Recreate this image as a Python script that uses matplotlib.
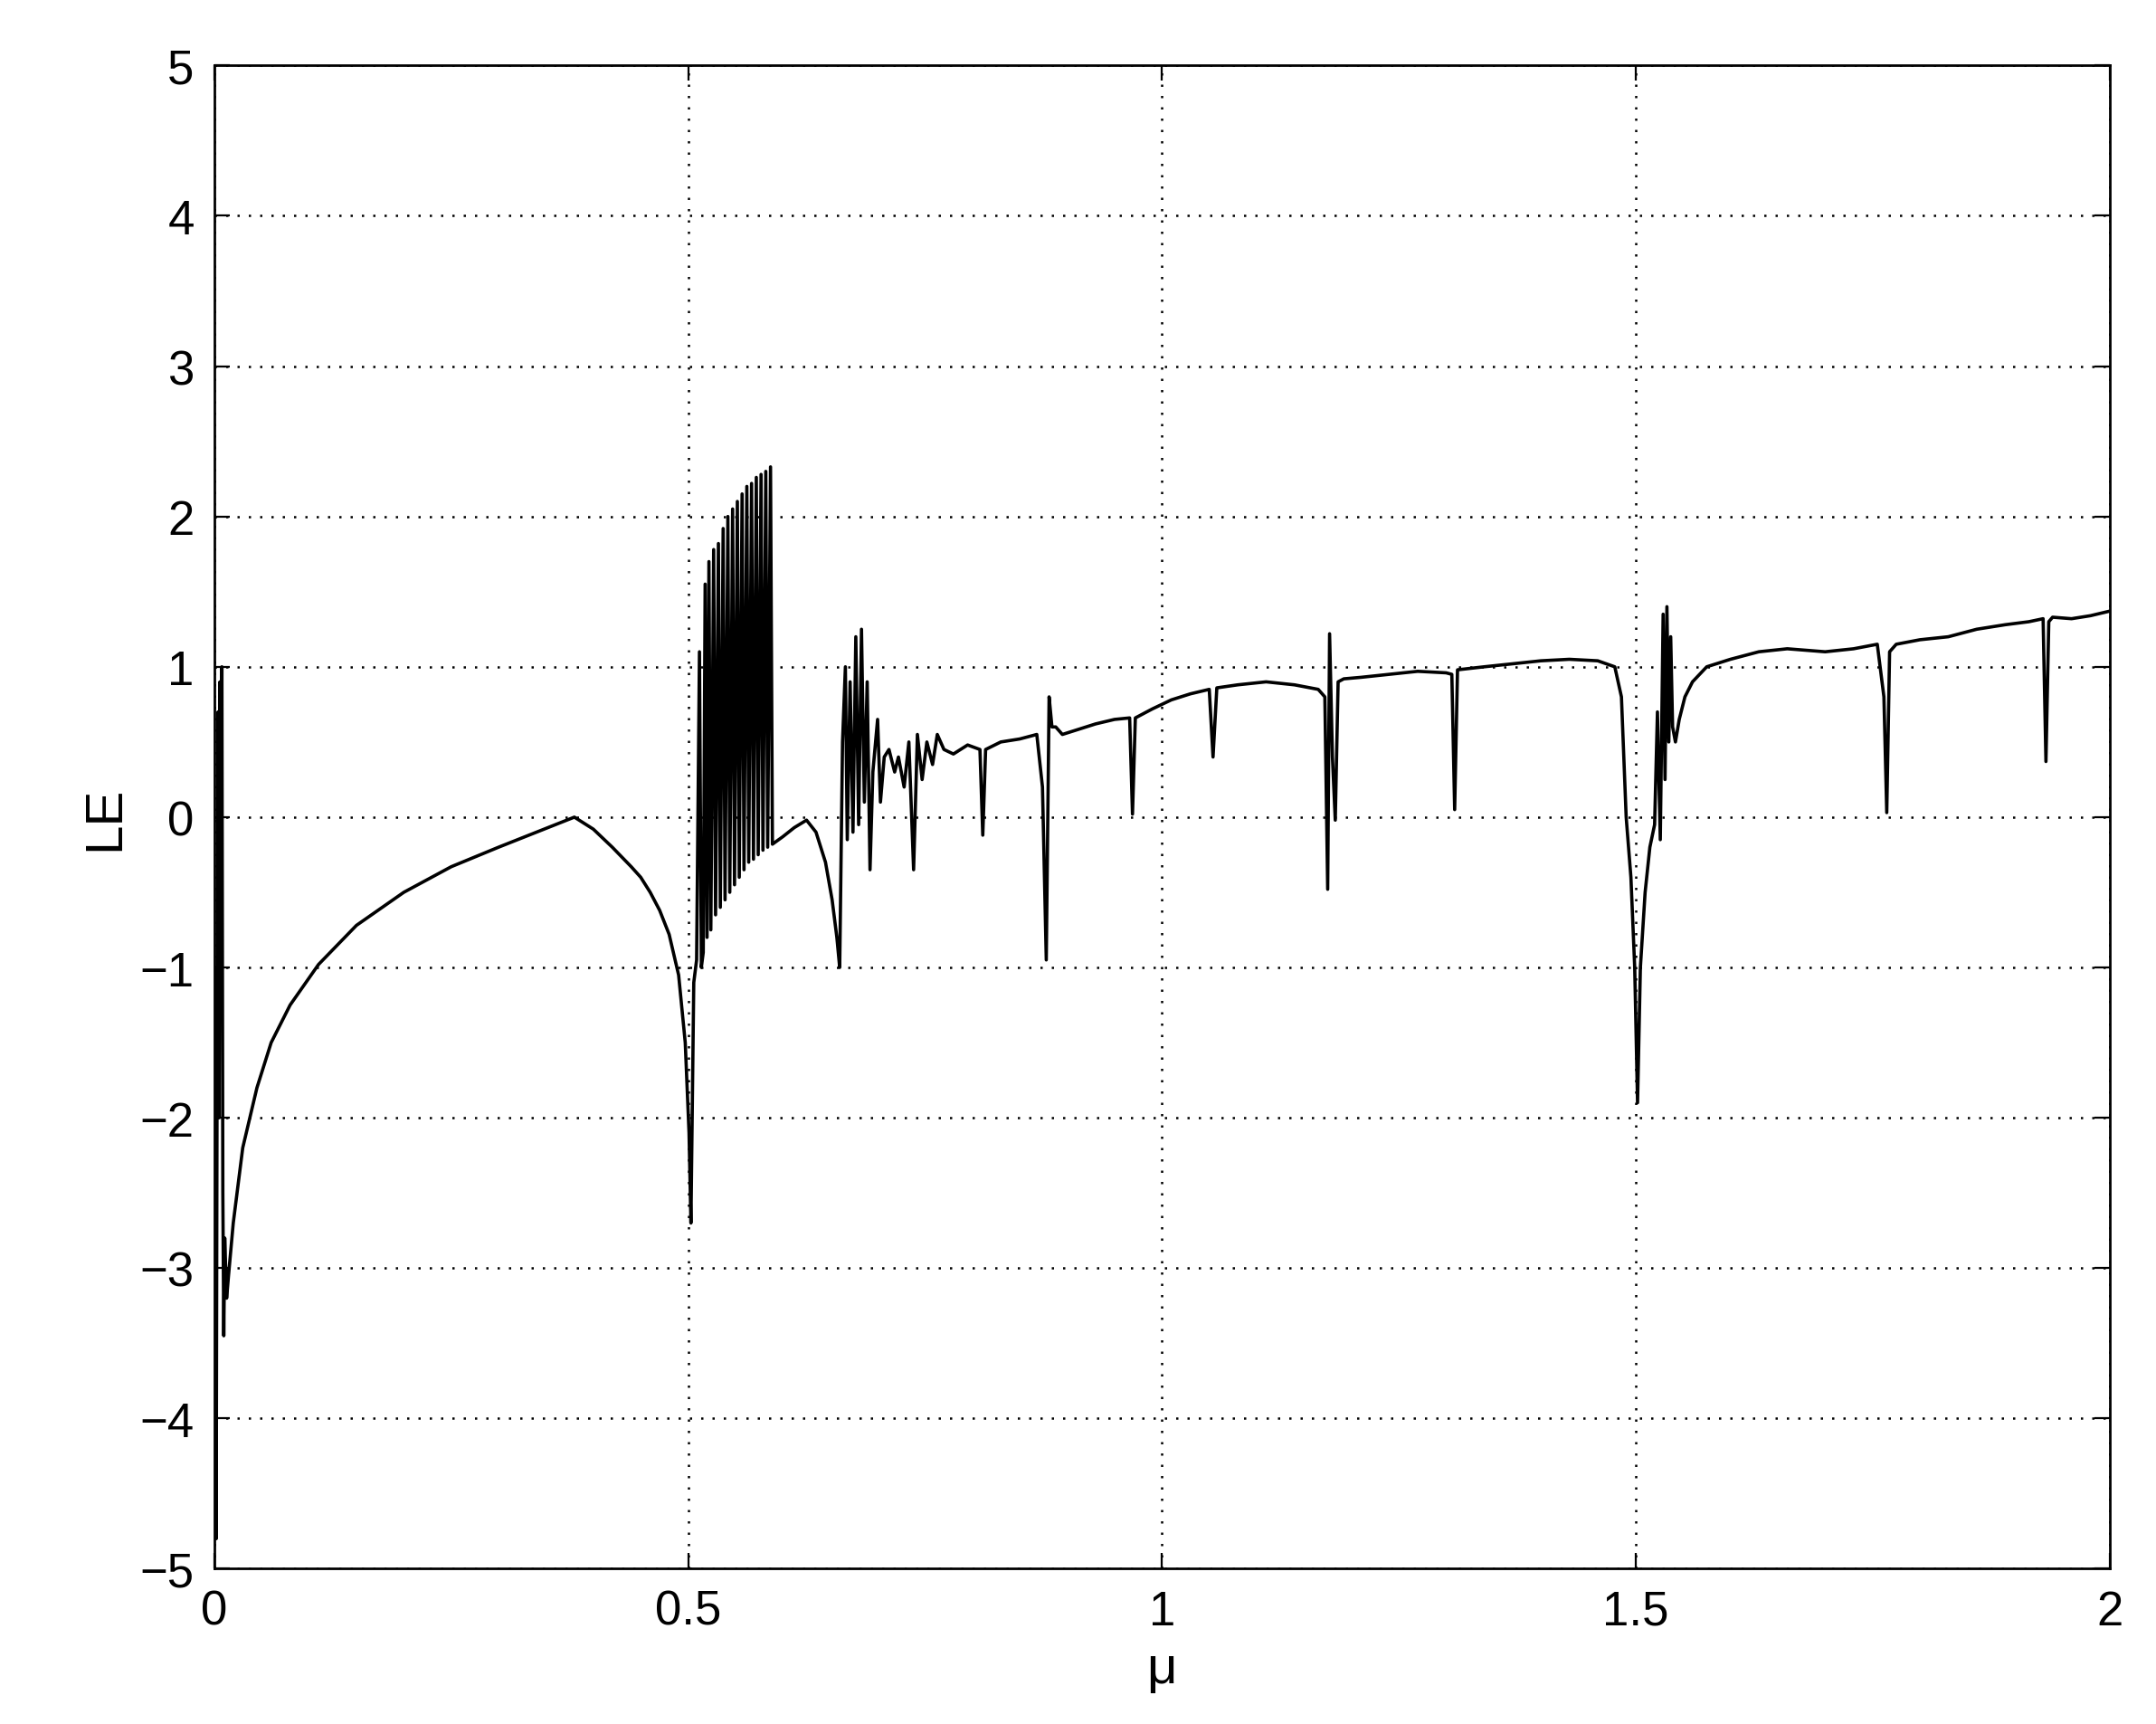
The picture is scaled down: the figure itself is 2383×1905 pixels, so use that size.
import numpy as np
import matplotlib.pyplot as plt

plt.rcParams['font.family'] = ['Liberation Sans', 'DejaVu Sans']

# hand-read points of the LE curve (mu, LE)
mu = [0.000, 0.002, 0.003, 0.004, 0.005, 0.006, 0.007, 0.008, 0.009, 0.010, 0.011, 0.013, 0.015,
      0.020, 0.030, 0.045, 0.060, 0.080, 0.110, 0.150, 0.200, 0.250, 0.300, 0.340, 0.380,
      0.400, 0.420, 0.440, 0.450, 0.460, 0.470, 0.480, 0.490, 0.497, 0.501, 0.503,
      0.506, 0.509, 0.512, 0.514, 0.516, 0.518, 0.520, 0.522, 0.524, 0.527, 0.529, 0.532, 0.534,
      0.537, 0.539, 0.542, 0.544, 0.547, 0.549, 0.552, 0.554, 0.557, 0.559, 0.562, 0.564, 0.567,
      0.569, 0.572, 0.574, 0.577, 0.579, 0.582, 0.584, 0.587, 0.589,
      0.600, 0.612, 0.625, 0.635, 0.645, 0.652, 0.657, 0.660, 0.663, 0.666, 0.668, 0.671, 0.674,
      0.677, 0.680, 0.683, 0.686, 0.689, 0.692, 0.695, 0.700, 0.703, 0.707, 0.712, 0.718, 0.722,
      0.728, 0.733, 0.738, 0.742, 0.747, 0.752, 0.758, 0.763, 0.770, 0.780, 0.795, 0.808, 0.811,
      0.814, 0.830, 0.850, 0.868, 0.874, 0.878, 0.881, 0.884, 0.888, 0.895, 0.910, 0.930, 0.950,
      0.966, 0.969, 0.972, 0.990, 1.010, 1.030, 1.050, 1.054, 1.058, 1.080, 1.110, 1.140, 1.165,
      1.172, 1.175, 1.177, 1.180, 1.183, 1.186, 1.192, 1.210, 1.240, 1.270, 1.300, 1.306, 1.309,
      1.312, 1.340, 1.370, 1.400, 1.430, 1.460, 1.478, 1.485, 1.490, 1.495, 1.499, 1.502, 1.505,
      1.510, 1.515, 1.520, 1.523, 1.526, 1.529, 1.531, 1.533, 1.535, 1.537, 1.539, 1.542, 1.546,
      1.552, 1.560, 1.575, 1.600, 1.630, 1.660, 1.700, 1.730, 1.755, 1.762, 1.765, 1.768, 1.775,
      1.800, 1.830, 1.860, 1.890, 1.915, 1.930, 1.933, 1.936, 1.940, 1.960, 1.980, 2.000]
le = [-1.0, -4.8, -1.5, 0.7, -2.0, 0.9, -1.0, 1.0, -2.5, -3.45, -2.8, -3.2, -3.05,
      -2.7, -2.2, -1.8, -1.5, -1.25, -0.98, -0.72, -0.50, -0.33, -0.20, -0.10, 0.00,
      -0.08, -0.20, -0.33, -0.40, -0.50, -0.62, -0.78, -1.05, -1.50, -2.10, -2.70,
      -1.10, -0.95, 1.10, -1.00, -0.90, 1.55, -0.80, 1.70, -0.75, 1.78, -0.65, 1.82, -0.60,
      1.92, -0.55, 2.00, -0.50, 2.05, -0.45, 2.10, -0.40, 2.15, -0.35, 2.20, -0.30, 2.22,
      -0.28, 2.26, -0.25, 2.28, -0.22, 2.30, -0.20, 2.33, -0.18,
      -0.13, -0.07, -0.02, -0.10, -0.30, -0.55, -0.80, -1.00, 0.50, 1.00, -0.15, 0.90, -0.10,
      1.20, -0.05, 1.25, 0.10, 0.90, -0.35, 0.30, 0.65, 0.10, 0.40, 0.45, 0.30, 0.40,
      0.20, 0.50, -0.35, 0.55, 0.25, 0.50, 0.35, 0.55, 0.45, 0.42, 0.48, 0.45, -0.12,
      0.45, 0.50, 0.52, 0.55, 0.20, -0.95, 0.80, 0.60, 0.60, 0.55, 0.58, 0.62, 0.65,
      0.66, 0.02, 0.66, 0.72, 0.78, 0.82, 0.85, 0.40, 0.86, 0.88, 0.90, 0.88, 0.85,
      0.80, -0.48, 1.22, 0.40, -0.02, 0.90, 0.92, 0.93, 0.95, 0.97, 0.96, 0.95, 0.05,
      0.98, 1.00, 1.02, 1.04, 1.05, 1.04, 1.00, 0.80, 0.00, -0.40, -1.00, -1.90, -1.00,
      -0.50, -0.20, -0.05, 0.70, -0.15, 1.35, 0.25, 1.40, 0.50, 1.20, 0.60, 0.50, 0.65,
      0.80, 0.90, 1.00, 1.05, 1.10, 1.12, 1.10, 1.12, 1.15, 0.80, 0.03, 1.10, 1.15,
      1.18, 1.20, 1.25, 1.28, 1.30, 1.32, 0.37, 1.30, 1.33, 1.32, 1.34, 1.37]

fig = plt.figure(figsize=(11.915, 9.53), dpi=200)
ax = fig.add_axes([0.0994, 0.090, 0.8790, 0.8715])
ax.plot(mu, le, color='black', lw=1.3)
ax.set_xlim(0, 2)
ax.set_ylim(-5, 5)
ax.set_xticks([0, 0.5, 1, 1.5, 2])
ax.set_xticklabels(['0', '0.5', '1', '1.5', '2'])
ax.set_yticks(range(-5, 6))
ax.set_yticklabels([('\u2212%d' % -v) if v < 0 else str(v) for v in range(-5, 6)])
ax.grid(True, color='black', linestyle=(0, (1, 4)), lw=0.9)
ax.tick_params(direction='in', top=True, right=True, labelsize=19, length=6, pad=8)
for s in ax.spines.values():
    s.set_linewidth(1.0)
ax.set_xlabel('\u03bc', fontsize=21)
ax.set_ylabel('LE', fontsize=21)
fig.savefig('out.png')
